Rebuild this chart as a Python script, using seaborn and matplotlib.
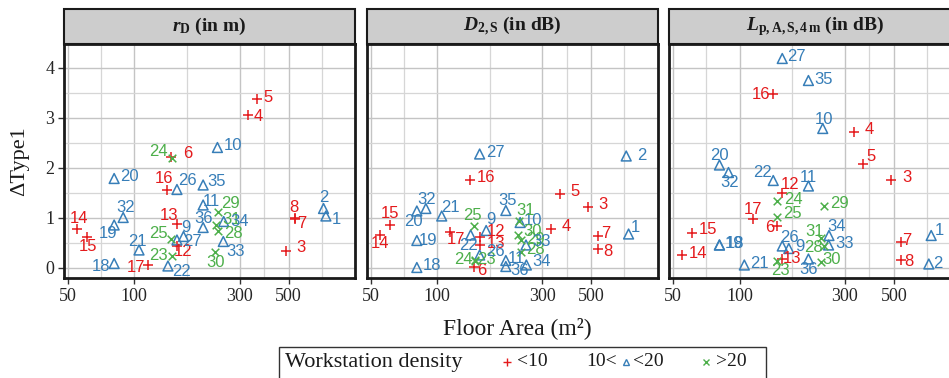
import pandas as pd
import matplotlib
matplotlib.use("Agg")
import matplotlib.pyplot as plt
import seaborn as sns
from matplotlib.patches import Rectangle
from matplotlib.lines import Line2D
from matplotlib.ticker import FixedLocator, NullFormatter

# ---- data ----
room_id = list(range(1, 37))
floor_area = [738, 720, 485, 329, 361, 147, 536, 536, 167, 238, 205, 156,
              156, 55, 61, 141, 115, 81, 81, 81, 105, 142, 148, 148,
              147, 156, 156, 240, 240, 233, 234, 89, 253, 254, 205, 205]
density = ["mid", "mid", "low", "low", "low", "low", "low", "low", "mid", "mid",
           "mid", "low", "low", "low", "low", "low", "low", "mid", "mid", "mid",
           "mid", "mid", "high", "high", "high", "mid", "mid", "high", "high", "high",
           "high", "mid", "mid", "mid", "mid", "mid"]
d_type_rd = [1.04, 1.19, 0.34, 3.07, 3.38, 2.22, 0.98, 1.00, 0.63, 2.41, 1.26, 0.44,
             0.89, 0.79, 0.63, 1.57, 0.06, 0.09, 0.86, 1.79, 0.36, 0.04, 0.25, 2.20,
             0.58, 1.57, 0.56, 0.75, 1.13, 0.33, 0.86, 1.01, 0.53, 0.93, 1.66, 0.81]
d_type_d2s = [0.68, 2.24, 1.23, 0.79, 1.49, 0.03, 0.65, 0.38, 0.75, 0.91, 0.15, 0.63,
              0.46, 0.66, 0.87, 1.76, 0.73, 0.01, 0.55, 1.14, 1.04, 0.66, 0.16, 0.15,
              0.85, 0.26, 2.28, 0.33, 0.56, 0.66, 0.95, 1.19, 0.46, 0.06, 1.15, 0.03]
d_type_lp = [0.65, 0.08, 1.76, 2.73, 2.09, 0.85, 0.53, 0.17, 0.39, 2.79, 1.64, 1.51,
             0.19, 0.26, 0.71, 3.49, 0.99, 0.46, 0.46, 2.06, 0.06, 1.75, 0.15, 1.35,
             1.03, 0.44, 4.19, 0.44, 1.24, 0.13, 0.61, 1.91, 0.46, 0.65, 3.75, 0.18]

panel_titles = [r"$r_{\mathrm{D}}$ (in m)", r"$D_{\mathrm{2,S}}$ (in dB)",
                r"$L_{\mathrm{p,A,S,4\,m}}$ (in dB)"]
x_ticks = [50, 100, 300, 500]
y_ticks = [0, 1, 2, 3, 4]

df = pd.DataFrame({"id": room_id, "area": floor_area, "density": density,
                   "rd": d_type_rd, "d2s": d_type_d2s, "lp": d_type_lp})
cols = ["rd", "d2s", "lp"]

# label nudges (pixels right, pixels up), like ggrepel placed them
nudge = [
    {1: (10, -3), 2: (0, 11), 3: (15, 3), 4: (10, -2), 5: (11, 2), 6: (16, 3), 7: (7, -4),
     8: (-1, 11), 9: (2, 9), 10: (16, 2), 11: (8, 4), 12: (6, -6), 13: (-8, 8), 14: (2, 10),
     15: (1, -10), 16: (-3, 11), 17: (-12, -3), 18: (-13, -3), 19: (-6, -9), 20: (15, 2),
     21: (-2, 9), 22: (14, -5), 23: (-13, 0), 24: (-13, 7), 25: (-13, 6), 26: (10, 9),
     27: (15, -2), 28: (15, -3), 29: (12, 8), 30: (0, -11), 31: (16, 5), 32: (2, 10),
     33: (12, -10), 34: (16, 0), 35: (13, 3), 36: (0, 9)},
    {1: (7, 6), 2: (16, 1), 3: (15, 2), 4: (15, 2), 5: (15, 2), 6: (8, -4), 7: (8, 2),
     8: (10, -3), 9: (5, 11), 10: (13, 2), 11: (11, 2), 12: (16, 5), 13: (16, 2), 14: (0, -9),
     15: (0, 11), 16: (16, 2), 17: (6, -8), 18: (15, 2), 19: (11, 0), 20: (-3, -11),
     21: (9, 9), 22: (-2, -11), 23: (12, 1), 24: (-11, 1), 25: (-2, 10), 26: (16, 3),
     27: (16, 2), 28: (15, 2), 29: (15, 0), 30: (14, 3), 31: (7, 10), 32: (1, 9),
     33: (16, 3), 34: (15, 3), 35: (2, 10), 36: (14, -4)},
    {1: (8, 5), 2: (9, 1), 3: (16, 2), 4: (15, 2), 5: (8, 7), 6: (-7, -2), 7: (6, 1),
     8: (8, -2), 9: (11, 2), 10: (1, 9), 11: (0, 9), 12: (8, 8), 13: (10, 0), 14: (16, 2),
     15: (16, 3), 16: (-12, -1), 17: (0, 9), 18: (16, 1), 19: (15, 2), 20: (0, 10),
     21: (15, 2), 22: (-11, 8), 23: (3, -10), 24: (16, 1), 25: (16, 3), 26: (7, 9),
     27: (14, 2), 28: (-10, -2), 29: (16, 3), 30: (11, 2), 31: (-7, 6), 32: (1, -10),
     33: (16, 2), 34: (8, 9), 35: (15, 1), 36: (0, -11)},
]

colors = {"low": "#E41A1C", "mid": "#377EB8", "high": "#4DAF4A"}
markers = {"low": "+", "mid": "^", "high": "x"}
sizes = {"low": 48, "mid": 50, "high": 30}

sns.set_style("whitegrid")
serif = "Liberation Serif"
plt.rcParams["font.family"] = [serif, "DejaVu Serif"]
plt.rcParams["mathtext.fontset"] = "custom"
plt.rcParams["mathtext.it"] = "Liberation Serif:italic:bold"
plt.rcParams["mathtext.rm"] = "Liberation Serif:bold"
plt.rcParams["mathtext.bf"] = "Liberation Serif:bold"

W, H = 949, 378
fig = plt.figure(figsize=(W / 100, H / 100), dpi=100)
lefts = [64, 366.7, 669.3]
ax_w, ax_h, ax_bottom = 291, 234, 100
strip_h = 35

for k, col in enumerate(cols):
    ax = fig.add_axes([lefts[k] / W, ax_bottom / H, ax_w / W, ax_h / H])
    for grp in ["low", "mid", "high"]:
        sub = df[df["density"] == grp]
        c = colors[grp]
        if grp == "mid":
            sns.scatterplot(data=sub, x="area", y=col, ax=ax, marker="^", color=c,
                            facecolor="none", edgecolor=c, linewidth=1.1,
                            s=sizes[grp], legend=False, zorder=3)
        else:
            sns.scatterplot(data=sub, x="area", y=col, ax=ax, marker=markers[grp],
                            color=c, linewidth=1.1, s=sizes[grp], legend=False, zorder=3)
    for _, row in df.iterrows():
        dx, dy = nudge[k][row["id"]]
        ax.annotate(str(row["id"]), (row["area"], row[col]),
                    xytext=(dx * 0.72, dy * 0.72), textcoords="offset points",
                    ha="center", va="center", color=colors[row["density"]],
                    fontsize=12, family="Liberation Sans", zorder=4,
                    annotation_clip=False)

    ax.set_xscale("log")
    ax.set_xlim(48, 1000)
    ax.set_ylim(-0.2, 4.48)
    ax.xaxis.set_major_locator(FixedLocator(x_ticks))
    ax.set_xticklabels([str(t) for t in x_ticks])
    ax.xaxis.set_minor_locator(FixedLocator([70.7, 173.2, 387.3, 707.1]))
    ax.xaxis.set_minor_formatter(NullFormatter())
    ax.set_yticks(y_ticks)
    ax.yaxis.set_minor_locator(FixedLocator([0.5, 1.5, 2.5, 3.5]))
    ax.grid(True, which="major", color="#C4C4C4", linewidth=1.0)
    ax.grid(True, which="minor", color="#D6D6D6", linewidth=0.9)
    ax.set_axisbelow(True)
    ax.set_facecolor("white")
    for sp in ax.spines.values():
        sp.set_color("#1A1A1A")
        sp.set_linewidth(2.0)
    ax.tick_params(axis="x", which="major", bottom=True, direction="out", length=4,
                   width=1, color="#333333", labelsize=13, pad=3)
    ax.tick_params(axis="both", which="minor", length=0)
    if k == 0:
        ax.tick_params(axis="y", which="major", left=True, direction="out", length=4,
                       width=1, color="#333333", labelsize=13, pad=3)
    else:
        ax.tick_params(axis="y", left=False, labelleft=False)
    ax.set_xlabel("")
    ax.set_ylabel("")

    strip = Rectangle((0, 1), 1, strip_h / ax_h, transform=ax.transAxes,
                      facecolor="#CDCDCD", edgecolor="#1A1A1A", linewidth=1.5,
                      clip_on=False, zorder=5)
    ax.add_patch(strip)
    ax.text(0.5, 1 + strip_h / ax_h / 2, panel_titles[k], transform=ax.transAxes,
            ha="center", va="center", fontsize=14, fontweight="bold", color="#1A1A1A",
            zorder=6)

fig.text(20 / W, 1 - 161 / H, "ΔType1", rotation=90, ha="center", va="center",
         fontsize=16, color="#1A1A1A")
fig.text(517 / W, 1 - 328 / H, "Floor Area (m²)", ha="center", va="center",
         fontsize=17, color="#1A1A1A")

# legend box drawn by hand
fig.add_artist(Rectangle((279 / W, -0.05), (766 - 279) / W, (378 - 347) / H + 0.05,
                         transform=fig.transFigure, facecolor="white",
                         edgecolor="#333333", linewidth=1.0))
ly = 1 - 362 / H
fig.text(285 / W, ly, "Workstation density", ha="left", va="center", fontsize=16,
         color="#1A1A1A")
fig.add_artist(Line2D([507 / W], [ly], transform=fig.transFigure, marker="+",
                      color=colors["low"], markersize=6, markeredgewidth=1))
fig.text(517 / W, ly, "<10", ha="left", va="center", fontsize=14, color="#1A1A1A")
fig.text(586 / W, ly, "10<", ha="left", va="center", fontsize=14, color="#1A1A1A")
fig.add_artist(Line2D([626 / W], [ly], transform=fig.transFigure, marker="^",
                      color=colors["mid"], markerfacecolor="none", markersize=5,
                      markeredgewidth=1))
fig.text(633 / W, ly, "<20", ha="left", va="center", fontsize=14, color="#1A1A1A")
fig.add_artist(Line2D([706 / W], [ly], transform=fig.transFigure, marker="x",
                      color=colors["high"], markersize=5, markeredgewidth=1))
fig.text(716 / W, ly, ">20", ha="left", va="center", fontsize=14, color="#1A1A1A")

fig.savefig("out.png", dpi=100)
